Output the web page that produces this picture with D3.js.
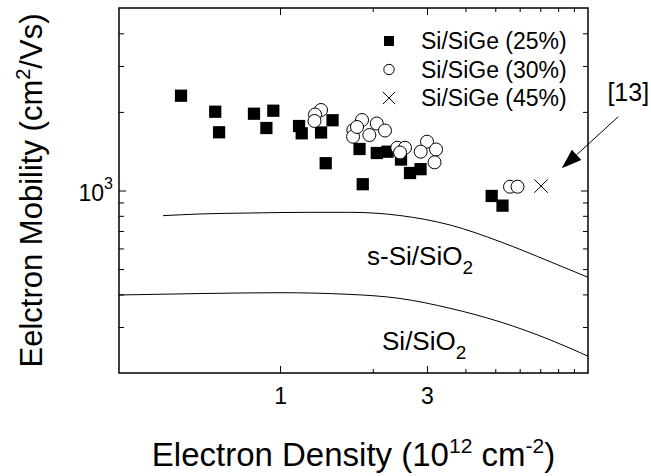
<!DOCTYPE html>
<html>
<head>
<meta charset="utf-8">
<script src="https://cdn.jsdelivr.net/npm/d3@7"></script>
<style>
  body { margin: 0; background: #fff; }
  svg, svg text { font-family: "Liberation Sans", Arial, Helvetica, sans-serif; }
</style>
</head>
<body>
<svg id="chart" width="651" height="476"></svg>
<script>
// Si/SiGe (25%) - filled squares
var sige25X = [0.477, 0.616, 0.634, 0.823, 0.951, 0.903, 1.153, 1.176, 1.359, 1.481, 1.407, 1.812, 1.856, 2.062, 2.234, 2.471, 2.643, 2.859, 4.867, 5.277];
var sige25Y = [2307, 2003, 1671, 1968, 2021, 1735, 1766, 1656, 1668, 1858, 1272, 1442, 1057, 1392, 1408, 1314, 1167, 1207, 953, 875];

// Si/SiGe (30%) - open circles
var sige30X = [1.359, 1.299, 1.294, 1.846, 1.730, 1.726, 1.778, 2.061, 2.192, 1.950, 2.403, 2.546, 2.453, 3.001, 2.862, 3.211, 3.175, 5.582, 5.904];
var sige30Y = [2034, 1954, 1846, 1862, 1705, 1607, 1751, 1806, 1697, 1631, 1458, 1458, 1398, 1538, 1408, 1436, 1282, 1034, 1034];

// Si/SiGe (45%) - cross, ref [13]
var sige45X = [7.04];
var sige45Y = [1040];

// model curves
var sSiX = [0.417, 0.55, 0.8, 1.25, 1.69, 2.45, 3.56, 5.18, 7.53, 10];
var sSiY = [801, 813, 820, 825, 825, 802, 738, 637, 534, 465];
var siX = [0.3, 0.55, 1.0, 1.69, 2.45, 3.56, 5.18, 7.53, 10];
var siY = [398, 403, 406, 400, 386, 354, 314, 268, 232];

// ticks
var xLabelTicks = [1, 3];
var xMinorTicks = [2, 4, 5, 6, 7, 8, 9];
var yLabelTicks = [1000];
var yMinorTicks = [300, 400, 500, 600, 700, 800, 900, 2000, 3000, 4000];

var legendNames = ["Si/SiGe (25%)", "Si/SiGe (30%)", "Si/SiGe (45%)"];

(function () {

	var svg = d3.select("#chart"),
	    mLeft = 119, mRight = 588, mTop = 8, mBottom = 373;

	var x = d3.scaleLog().domain([0.3, 10]).range([mLeft, mRight]);
	var y = d3.scaleLog().domain([200, 5000]).range([mBottom, mTop]);

	function zip(xs, ys) {
		return xs.map(function(v, i) { return {x: v, y: ys[i]}; });
	}

	svg.append("clipPath").attr("id", "plot-clip")
		.append("rect").attr("x", mLeft).attr("y", mTop)
		.attr("width", mRight - mLeft).attr("height", mBottom - mTop);

	// axes (ticks pointing inward, on all four sides)
	function drawTicks(axisFn, scale, values, len, transform, labels) {
		var g = svg.append("g").attr("transform", transform)
			.call(axisFn(scale).tickValues(values).tickSizeInner(-len).tickSizeOuter(0)
				.tickFormat(labels ? function(d) { return d; } : ""));
		g.attr("font-family", null).attr("font-size", null);
		g.select(".domain").remove();
		g.selectAll(".tick line").attr("stroke", "#000").attr("stroke-width", 1);
		return g;
	}

	var xb = drawTicks(d3.axisBottom, x, xLabelTicks, 7, "translate(0," + mBottom + ")", true);
	xb.selectAll(".tick text").attr("y", 15).attr("font-size", 23).attr("fill", "#000");
	drawTicks(d3.axisBottom, x, xMinorTicks, 4, "translate(0," + mBottom + ")", false);
	drawTicks(d3.axisTop, x, xLabelTicks, 7, "translate(0," + mTop + ")", false);
	drawTicks(d3.axisTop, x, xMinorTicks, 4, "translate(0," + mTop + ")", false);

	var yl = drawTicks(d3.axisLeft, y, yLabelTicks, 7, "translate(" + mLeft + ",0)", true);
	yl.selectAll(".tick text").attr("x", -6).attr("font-size", 23).attr("fill", "#000")
		.attr("dy", "0.45em")
		.text("10")
		.append("tspan").attr("font-size", 16).attr("dy", "-0.75em").text("3");
	drawTicks(d3.axisLeft, y, yMinorTicks, 5, "translate(" + mLeft + ",0)", false);
	drawTicks(d3.axisRight, y, yLabelTicks, 7, "translate(" + mRight + ",0)", false);
	drawTicks(d3.axisRight, y, yMinorTicks, 5, "translate(" + mRight + ",0)", false);

	svg.append("rect")
		.attr("x", mLeft).attr("y", mTop)
		.attr("width", mRight - mLeft).attr("height", mBottom - mTop)
		.attr("fill", "none").attr("stroke", "#000").attr("stroke-width", 1.5);

	// curves
	var line = d3.line()
		.x(function(d) { return x(d.x); })
		.y(function(d) { return y(d.y); })
		.curve(d3.curveMonotoneX);

	[zip(sSiX, sSiY), zip(siX, siY)].forEach(function(pts) {
		svg.append("path")
			.attr("d", line(pts))
			.attr("clip-path", "url(#plot-clip)")
			.attr("fill", "none").attr("stroke", "#000").attr("stroke-width", 1);
	});

	// curve labels
	function subLabel(text, sub, xv, yv) {
		var t = svg.append("text")
			.attr("x", x(xv)).attr("y", y(yv))
			.attr("font-size", 26).attr("fill", "#000")
			.text(text);
		t.append("tspan").attr("font-size", 19).attr("dy", 9).text(sub);
	}
	subLabel("s-Si/SiO", "2", 1.917, 518);
	subLabel("Si/SiO", "2", 2.144, 245);

	// data points
	svg.append("g").selectAll("path")
		.data(zip(sige25X, sige25Y))
		.enter().append("path")
		.attr("transform", function(d) { return "translate(" + x(d.x) + "," + y(d.y) + ")"; })
		.attr("d", d3.symbol().type(d3.symbolSquare).size(150))
		.attr("fill", "#000");

	svg.append("g").selectAll("circle")
		.data(zip(sige30X, sige30Y))
		.enter().append("circle")
		.attr("cx", function(d) { return x(d.x); })
		.attr("cy", function(d) { return y(d.y); })
		.attr("r", 6.5)
		.attr("fill", "#fff").attr("stroke", "#000").attr("stroke-width", 1);

	svg.append("g").selectAll("path")
		.data(zip(sige45X, sige45Y))
		.enter().append("path")
		.attr("transform", function(d) { return "translate(" + x(d.x) + "," + y(d.y) + ")"; })
		.attr("d", d3.symbol().type(d3.symbolTimes).size(120))
		.attr("fill", "none").attr("stroke", "#000").attr("stroke-width", 1);

	// legend
	var legend = svg.append("g").attr("transform", "translate(389,41)");
	var legendSymbols = [
		{type: d3.symbolSquare, size: 100, fill: "#000", stroke: "none"},
		{type: d3.symbolCircle, size: 85, fill: "#fff", stroke: "#000"},
		{type: d3.symbolTimes, size: 100, fill: "none", stroke: "#000"}
	];
	legendNames.forEach(function(name, i) {
		var row = legend.append("g").attr("transform", "translate(0," + (i * 28.5) + ")");
		row.append("path")
			.attr("d", d3.symbol().type(legendSymbols[i].type).size(legendSymbols[i].size))
			.attr("fill", legendSymbols[i].fill)
			.attr("stroke", legendSymbols[i].stroke).attr("stroke-width", 1);
		row.append("text")
			.attr("x", 32).attr("dy", "0.36em")
			.attr("font-size", 23).attr("fill", "#000")
			.text(name);
	});

	// reference arrow
	var tail = [x(12.54), y(1917)], tip = [x(8.22), y(1216)];
	var dx = tip[0] - tail[0], dy = tip[1] - tail[1], len = Math.sqrt(dx * dx + dy * dy);
	var ux = dx / len, uy = dy / len, headLen = 20, headW = 7;
	var base = [tip[0] - ux * headLen, tip[1] - uy * headLen];
	svg.append("line")
		.attr("x1", tail[0]).attr("y1", tail[1])
		.attr("x2", base[0]).attr("y2", base[1])
		.attr("stroke", "#000").attr("stroke-width", 1);
	svg.append("path")
		.attr("d", "M" + tip + "L" + [base[0] - uy * headW, base[1] + ux * headW] +
			"L" + [base[0] + uy * headW, base[1] - ux * headW] + "Z")
		.attr("fill", "#000");
	svg.append("text")
		.attr("x", tail[0] + 10).attr("y", tail[1] - 16)
		.attr("text-anchor", "middle")
		.attr("font-size", 25).attr("fill", "#000")
		.text("[13]");

	// axis titles
	var xt = svg.append("text")
		.attr("x", (mLeft + mRight) / 2).attr("y", 466)
		.attr("text-anchor", "middle")
		.attr("font-size", 33).attr("fill", "#000")
		.text("Electron Density (10");
	xt.append("tspan").attr("font-size", 21).attr("dy", -13).text("12");
	xt.append("tspan").attr("dy", 13).text(" cm");
	xt.append("tspan").attr("font-size", 21).attr("dy", -13).text("-2");
	xt.append("tspan").attr("dy", 13).text(")");

	var yt = svg.append("text")
		.attr("transform", "translate(42," + ((mTop + mBottom) / 2) + ") rotate(-90)")
		.attr("text-anchor", "middle")
		.attr("font-size", 31).attr("fill", "#000")
		.text("Eelctron Mobility (cm");
	yt.append("tspan").attr("font-size", 20).attr("dy", -12).text("2");
	yt.append("tspan").attr("dy", 12).text("/Vs)");

})();
</script>
</body>
</html>
